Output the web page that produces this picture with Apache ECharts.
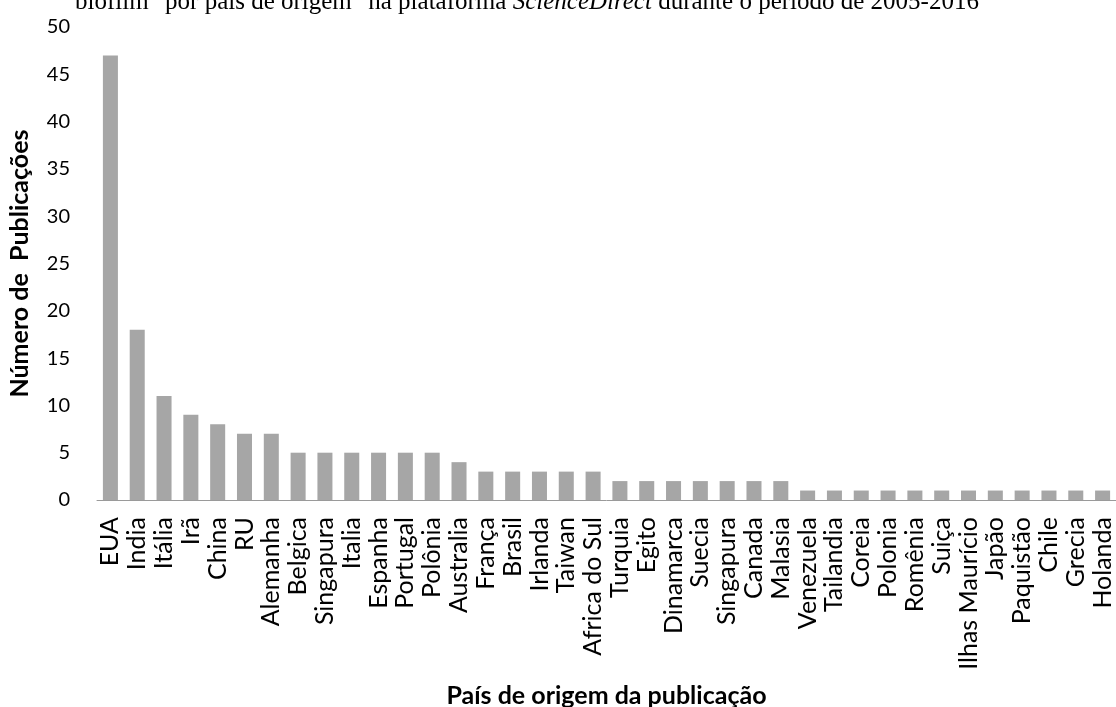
<!DOCTYPE html>
<html>
<head>
<meta charset="utf-8">
<script src="https://cdn.jsdelivr.net/npm/echarts@6/dist/echarts.min.js"></script>
<style>
  html, body { margin: 0; padding: 0; background: #fff; }
  #chart { width: 1116px; height: 707px; }
</style>
</head>
<body>
<div id="chart"></div>
<script>
// Publications per country of origin
const countries = [
  'EUA', 'India', 'Itália', 'Irã', 'China', 'RU', 'Alemanha', 'Belgica', 'Singapura',
  'Italia', 'Espanha', 'Portugal', 'Polônia', 'Australia', 'França', 'Brasil', 'Irlanda',
  'Taiwan', 'Africa do Sul', 'Turquia', 'Egito', 'Dinamarca', 'Suecia', 'Singapura',
  'Canada', 'Malasia', 'Venezuela', 'Tailandia', 'Coreia', 'Polonia', 'Romênia', 'Suiça',
  'Ilhas Maurício', 'Japão', 'Paquistão', 'Chile', 'Grecia', 'Holanda'
];
const publications = [
  47, 18, 11, 9, 8, 7, 7, 5, 5,
  5, 5, 5, 5, 4, 3, 3, 3,
  3, 3, 2, 2, 2, 2, 2,
  2, 2, 1, 1, 1, 1, 1, 1,
  1, 1, 1, 1, 1, 1
];
const yTicks = { min: 0, max: 50, interval: 5 };

const chart = echarts.init(document.getElementById('chart'), null, { renderer: 'canvas' });
const sans = 'Lato, "Open Sans", sans-serif';
const serif = '"Liberation Serif", "Times New Roman", serif';

chart.setOption({
  animation: false,
  backgroundColor: '#ffffff',
  title: {
    left: 75,
    top: -10,
    padding: 0,
    text: '{n|biofilm" por país de origem" na plataforma }{i|ScienceDirect}{n| durante o período de 2005-2016}',
    textStyle: {
      fontWeight: 'normal',
      rich: {
        n: { fontFamily: serif, fontSize: 25, fontWeight: 'normal', color: '#000' },
        i: { fontFamily: serif, fontSize: 25, fontWeight: 'normal', fontStyle: 'italic', color: '#000' }
      }
    }
  },
  grid: { left: 97, right: 0, top: 27, bottom: 207, outerBoundsMode: 'none', containLabel: false },
  xAxis: {
    type: 'category',
    data: countries,
    name: 'País de origem da publicação',
    nameLocation: 'middle',
    nameGap: 183,
    nameTextStyle: { fontFamily: sans, fontSize: 25, fontWeight: 'bold', color: '#000' },
    axisLine: { lineStyle: { color: '#9a9a9a', width: 1 } },
    axisTick: { show: false },
    axisLabel: {
      interval: 0, rotate: 90, margin: 17,
      fontFamily: sans, fontSize: 25, color: '#000'
    }
  },
  yAxis: {
    type: 'value',
    min: yTicks.min, max: yTicks.max, interval: yTicks.interval,
    name: 'Número de  Publicações',
    nameLocation: 'middle',
    nameGap: 65,
    nameTextStyle: { fontFamily: sans, fontSize: 25, fontWeight: 'bold', color: '#000' },
    axisLine: { show: false },
    axisTick: { show: false },
    splitLine: { show: false },
    axisLabel: { margin: 27, fontFamily: sans, fontSize: 20, color: '#000' }
  },
  series: [{
    type: 'bar',
    data: publications,
    barCategoryGap: '44%',
    itemStyle: { color: '#a6a6a6' }
  }]
});
</script>
</body>
</html>
